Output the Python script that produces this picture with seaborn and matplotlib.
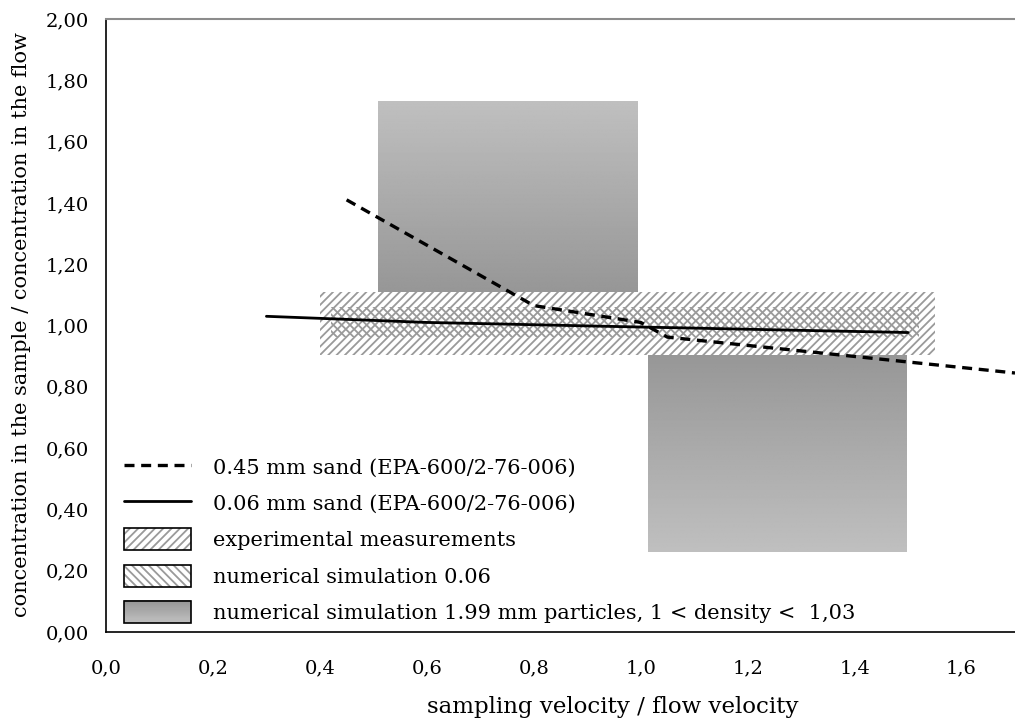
import numpy as np
import pandas as pd
import matplotlib
matplotlib.use("Agg")
import matplotlib.pyplot as plt
import seaborn as sns
from matplotlib.patches import Rectangle, Patch
from matplotlib.lines import Line2D
from matplotlib.legend_handler import HandlerBase, HandlerTuple
from matplotlib.ticker import FuncFormatter, MultipleLocator

# ---------------- data ----------------
sand045_x = [0.45, 0.80, 1.00, 1.05, 1.70]
sand045_y = [1.41, 1.065, 1.01, 0.962, 0.845]
sand006_x = [0.30, 0.60, 1.00, 1.50]
sand006_y = [1.03, 1.01, 0.995, 0.977]

# rectangles: (x0, x1, y0, y1)
exp_box = (0.40, 1.55, 0.905, 1.11)
num006_box = (0.42, 1.52, 0.963, 1.06)
num199_upper = (0.508, 0.993, 1.109, 1.73)
num199_lower = (1.014, 1.497, 0.26, 0.907)

labels = [
    "0.45 mm sand (EPA-600/2-76-006)",
    "0.06 mm sand (EPA-600/2-76-006)",
    "experimental measurements",
    "numerical simulation 0.06",
    "numerical simulation 1.99 mm particles, 1 < density <  1,03",
]
x_label = "sampling velocity / flow velocity"
y_label = "concentration in the sample / concentration in the flow"

# ---------------- style ----------------
sns.set_theme(style="white")
plt.rcParams["font.family"] = ["DejaVu Serif", "Liberation Serif"]
plt.rcParams["hatch.linewidth"] = 1.3

fig = plt.figure(figsize=(10.15, 7.25), dpi=100)
ax = fig.add_axes([106 / 1015, (725 - 632) / 725, 909 / 1015, 613 / 725])

# gradient boxes
light, dark = 0.75, 0.59
x0, x1, y0, y1 = num199_upper
ax.imshow(np.linspace(light, dark, 256).reshape(-1, 1), extent=[x0, x1, y0, y1],
          cmap="gray", vmin=0, vmax=1, aspect="auto", origin="upper", zorder=1,
          interpolation="bilinear")
x0, x1, y0, y1 = num199_lower
ax.imshow(np.linspace(dark, light, 256).reshape(-1, 1), extent=[x0, x1, y0, y1],
          cmap="gray", vmin=0, vmax=1, aspect="auto", origin="upper", zorder=1,
          interpolation="bilinear")

hatch_col = "#9a9a9a"
x0, x1, y0, y1 = exp_box
ax.add_patch(Rectangle((x0, y0), x1 - x0, y1 - y0, facecolor="white",
                       edgecolor=hatch_col, lw=0, hatch="////", zorder=2))
x0, x1, y0, y1 = num006_box
ax.add_patch(Rectangle((x0, y0), x1 - x0, y1 - y0, facecolor="none",
                       edgecolor=hatch_col, lw=0, hatch="\\\\\\\\", zorder=2))

# lines via seaborn
dash = (0, (3.0, 2.0))
df045 = pd.DataFrame({"x": sand045_x, "y": sand045_y})
df006 = pd.DataFrame({"x": sand006_x, "y": sand006_y})
sns.lineplot(data=df045, x="x", y="y", ax=ax, color="black", lw=2.4,
             linestyle=dash, zorder=3, sort=False)
sns.lineplot(data=df006, x="x", y="y", ax=ax, color="black", lw=2.0,
             zorder=3, sort=False)

# axes
ax.set_xlim(0, 1.7)
ax.set_ylim(0, 2.0)
ax.yaxis.set_major_locator(MultipleLocator(0.2))
ax.set_xticks([0, 0.2, 0.4, 0.6, 0.8, 1.0, 1.2, 1.4, 1.6])
ax.xaxis.set_major_formatter(FuncFormatter(lambda v, p: f"{v:.1f}".replace(".", ",")))
ax.yaxis.set_major_formatter(FuncFormatter(lambda v, p: f"{v:.2f}".replace(".", ",")))
ax.tick_params(axis="both", direction="out", length=7, width=1.2, color="black",
               labelsize=14, labelcolor="black", pad=5)
ax.tick_params(axis="x", pad=13)
for s in ["left", "bottom"]:
    ax.spines[s].set_color("black")
    ax.spines[s].set_linewidth(1.2)
ax.spines["top"].set_color("#8c8c8c")
ax.spines["top"].set_linewidth(1.5)
ax.spines["right"].set_visible(False)

ax.set_xlabel(x_label, fontsize=16.5, color="black")
ax.set_ylabel(y_label, fontsize=15, color="black")
ax.xaxis.set_label_coords(0.558, -0.104)
ax.yaxis.set_label_coords(-0.082, 0.502)


# legend
class HandlerGradient(HandlerBase):
    def create_artists(self, legend, orig_handle, xdescent, ydescent, width,
                       height, fontsize, trans):
        arts = []
        n = 20
        for i in range(n):
            v = dark + (light - dark) * (1 - i / (n - 1))  # bottom light
            r = Rectangle((-xdescent, -ydescent + height * i / n), width,
                          height / n + 0.3, facecolor=str(v), lw=0,
                          transform=trans)
            arts.append(r)
        arts.append(Rectangle((-xdescent, -ydescent), width, height,
                              facecolor="none", edgecolor="black", lw=1.2,
                              transform=trans))
        return arts


class GradHandle:
    pass


h1 = Line2D([], [], color="black", lw=2.4, linestyle=dash)
h2 = Line2D([], [], color="black", lw=2.0)
h3 = (Patch(facecolor="white", edgecolor=hatch_col, lw=0, hatch="////"),
      Patch(facecolor="none", edgecolor="black", lw=1.2))
h4 = (Patch(facecolor="white", edgecolor=hatch_col, lw=0, hatch="\\\\\\\\"),
      Patch(facecolor="none", edgecolor="black", lw=1.2))
h5 = GradHandle()

leg = ax.legend([h1, h2, h3, h4, h5], labels, loc="lower left",
                bbox_to_anchor=(0.02, 0.015), frameon=False, fontsize=15,
                handlelength=3.2, handleheight=1.25, handletextpad=1.05,
                labelspacing=0.68, borderpad=0, borderaxespad=0,
                handler_map={tuple: HandlerTuple(ndivide=1, pad=0),
                             GradHandle: HandlerGradient()})
for t in leg.get_texts():
    t.set_color("black")

fig.savefig("out.png", dpi=100)
